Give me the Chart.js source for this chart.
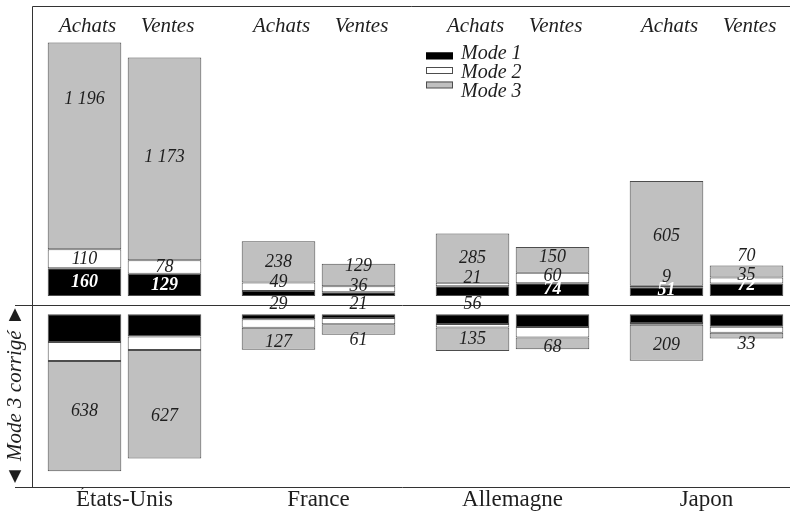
<!DOCTYPE html>
<html><head><meta charset="utf-8">
<script src="https://cdn.jsdelivr.net/npm/chart.js@4/dist/chart.umd.min.js"></script>
<style>html,body{margin:0;padding:0;background:#fff;}#wrap{width:790px;height:513px;position:relative;}</style>
</head><body><div id="wrap"><canvas id="c"></canvas></div>
<script>
// ---- data ----
const countries = ['États-Unis', 'France', 'Allemagne', 'Japon'];
const flows = ['Achats', 'Ventes'];
const modes = ['Mode 1', 'Mode 2', 'Mode 3'];
const lowerTitle = '◄ Mode 3 corrigé ►';

const achatsMode1 = [160, 29, 56, 51];
const achatsMode2 = [110, 49, 21, 9];
const achatsMode3 = [1196, 238, 285, 605];
const ventesMode1 = [129, 21, 74, 72];
const ventesMode2 = [78, 36, 60, 35];
const ventesMode3 = [1173, 129, 150, 70];
const achatsMode3Corrige = [638, 127, 135, 209];
const ventesMode3Corrige = [627, 61, 68, 33];

// ---- styles ----
const FONT = '"Liberation Serif", "Times New Roman", serif';
const INK = '#1e1e1e';
const modeColors = ['#000000', '#ffffff', '#c0c0c0'];
const EDGE = '#4d4d4d';
// label nudges (px) relative to the segment centre
const shiftUp = [
  [[0, 0, 0, -1.5], [0, -4.5, -6, -9], [-47, 0, 0, 3]],
  [[0, 0, 0, -4], [0, -3, -2, -5], [-2, -9, -3, -15]]
];
const mode1Outside = [[false, true, true, false], [false, true, false, false]];
const shiftDown = [[-5, 4, 0, 3], [12, 11, 4, 9]];

const upperSeries = [[achatsMode1, achatsMode2, achatsMode3], [ventesMode1, ventesMode2, ventesMode3]];
const lowerSeries = [[achatsMode1, achatsMode2, achatsMode3Corrige], [ventesMode1, ventesMode2, ventesMode3Corrige]];

const datasets = [];
[['up', upperSeries, 'yTop'], ['dn', lowerSeries, 'yBot']].forEach(([panel, series, axis]) => {
  series.forEach((flowSeries, f) => {
    flowSeries.forEach((vals, m) => {
      datasets.push({
        label: modes[m] + ' ' + flows[f] + (panel === 'dn' ? ' (corrigé)' : ''),
        data: vals.map((v, i) => ({ x: i, y: v })),
        backgroundColor: modeColors[m],
        borderColor: EDGE,
        borderWidth: 1,
        borderSkipped: false,
        stack: flows[f],
        yAxisID: axis,
        panel, flow: f, mode: m,
        categoryPercentage: 0.8247,
        barPercentage: 0.92
      });
    });
  });
});

const fmt = v => String(v).replace(/\B(?=(\d{3})+(?!\d))/g, ' ');

const decorPlugin = {
  id: 'decor',
  afterDraw(chart) {
    const ctx = chart.ctx, ca = chart.chartArea;
    const yT = chart.scales.yTop, yB = chart.scales.yBot;
    ctx.save();
    // frame
    ctx.strokeStyle = '#333';
    ctx.lineWidth = 1;
    const sep = Math.round((yT.getPixelForValue(0) + yB.getPixelForValue(0)) / 2) + 0.5;
    const L = Math.round(ca.left) + 0.5, T = Math.round(ca.top) + 0.5, B = Math.round(ca.bottom) + 0.5;
    ctx.beginPath();
    ctx.moveTo(L, B); ctx.lineTo(L, T); ctx.lineTo(ca.right, T);
    ctx.moveTo(15, sep); ctx.lineTo(ca.right, sep);
    ctx.moveTo(15, B); ctx.lineTo(ca.right, B);
    ctx.stroke();

    // value labels
    ctx.textAlign = 'center';
    ctx.textBaseline = 'middle';
    chart.data.datasets.forEach((ds, di) => {
      const meta = chart.getDatasetMeta(di);
      meta.data.forEach((el, i) => {
        const v = ds.data[i].y;
        const mid = (el.y + el.base) / 2;
        let y, color = INK, bold = false;
        if (ds.panel === 'up') {
          if (ds.mode === 0) {
            if (mode1Outside[ds.flow][i]) { y = el.base + 8.5; }
            else { y = mid + shiftUp[ds.flow][0][i]; color = '#fff'; bold = true; }
          } else {
            y = mid + shiftUp[ds.flow][ds.mode][i];
          }
        } else {
          if (ds.mode !== 2) return;
          y = mid + shiftDown[ds.flow][i];
        }
        ctx.font = 'italic ' + (bold ? 'bold ' : '') + '18px ' + FONT;
        ctx.fillStyle = color;
        ctx.fillText(fmt(v), el.x, y);
      });
    });

    // flow headers
    ctx.font = 'italic 21px ' + FONT;
    ctx.fillStyle = INK;
    ctx.textBaseline = 'alphabetic';
    chart.data.datasets.forEach((ds, di) => {
      if (ds.panel !== 'up' || ds.mode !== 0) return;
      chart.getDatasetMeta(di).data.forEach(el => ctx.fillText(flows[ds.flow], el.x + 3, 32));
    });

    // legend
    ctx.textAlign = 'left';
    ctx.font = 'italic 20px ' + FONT;
    modes.forEach((m, k) => {
      ctx.fillStyle = modeColors[k];
      ctx.fillRect(426, 52.5 + k * 14.5, 27, 6.5);
      ctx.strokeStyle = k === 0 ? '#000' : EDGE;
      ctx.strokeRect(426.5, 53 + k * 14.5, 26, 6);
      ctx.fillStyle = INK;
      ctx.fillText(m, 461, 59.3 + k * 18.7);
    });
    ctx.restore();
  }
};

const K = 0.1729, TOP = 6, BOT = 487, ZT = 296, ZB = 314.3;
new Chart(document.getElementById('c'), {
  type: 'bar',
  data: { datasets },
  plugins: [decorPlugin],
  options: {
    responsive: true,
    maintainAspectRatio: false,
    animation: false,
    layout: { padding: { top: TOP, left: 0, right: 0, bottom: 0 } },
    plugins: { legend: { display: false }, tooltip: { enabled: false } },
    scales: {
      x: {
        type: 'linear', stacked: true, offset: false,
        min: -92.5 / 194, max: -92.5 / 194 + 758 / 194,
        afterBuildTicks: s => { s.ticks = countries.map((c, i) => ({ value: i })); },
        afterFit: s => { s.height = 26; },
        grid: { display: false, drawTicks: false },
        border: { display: false },
        ticks: {
          autoSkip: false, maxRotation: 0, padding: 0, color: INK,
          font: { family: FONT, size: 23, lineHeight: 1.1 },
          callback: v => countries[v] !== undefined ? countries[v] : ''
        }
      },
      yTop: {
        type: 'linear', position: 'left', stacked: true,
        min: -(BOT - ZT) / K, max: (ZT - TOP) / K,
        afterFit: s => { s.width = 32; },
        grid: { display: false, drawTicks: false },
        border: { display: false },
        ticks: { display: false },
        title: {
          display: true, text: lowerTitle, align: 'start', color: INK,
          padding: { top: 3, bottom: 0 },
          font: { family: FONT, size: 21, style: 'italic', lineHeight: 1.2 }
        }
      },
      yBot: {
        type: 'linear', position: 'left', stacked: true, reverse: true, display: false,
        min: -(ZB - TOP) / K, max: (BOT - ZB) / K
      }
    }
  }
});
</script></body></html>
